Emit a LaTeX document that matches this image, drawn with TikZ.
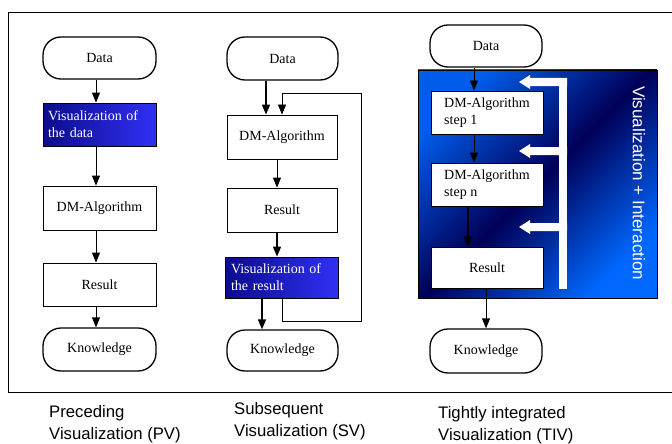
\documentclass[tikz,border=0pt]{standalone}
\usepackage{fontspec}
\setmainfont{Liberation Serif}
\newfontfamily\sanslabel{Liberation Sans}
\usetikzlibrary{arrows.meta}
\definecolor{vizdark}{RGB}{12,12,140}
\definecolor{vizbright}{RGB}{48,48,245}
\definecolor{panelbright}{RGB}{0,92,235}
\definecolor{panelbright2}{RGB}{0,104,255}
\definecolor{paneldark}{RGB}{0,0,88}
\begin{document}
\begin{tikzpicture}[x=1pt,y=-1pt,
  box/.style={draw=black, line width=0.8pt, fill=white, minimum width=113pt,
    minimum height=43pt, inner sep=0pt, font=\fontsize{14}{17}\selectfont},
  term/.style={box, rounded corners=18pt, line width=1.3pt},
  vizbox/.style={box, left color=vizdark, right color=vizbright, text=white,
    align=left, text width=103pt, inner xsep=5pt},
  stepbox/.style={box, align=left},
  conn/.style={line width=0.8pt, -{Triangle[length=10pt,width=8pt]}},
  connthick/.style={conn, line width=1.6pt},
  loopline/.style={line width=0.7pt},
  caption/.style={anchor=north west, inner sep=0pt, align=left,
    font=\sanslabel\fontsize{16.7}{22}\selectfont},
]
\useasboundingbox (0,0) rectangle (672,444);

% outer frame, open to the right
\draw[line width=0.9pt] (672,12) -- (8,12) -- (8,392) -- (672,392);

% ---------- Preceding visualization ----------
\coordinate (c1) at (96,0);
\node[term] (data1) at (99.5,58) [minimum height=42pt] {Data};
\node[vizbox] (vis1) at (99.5,124.5) {Visualization of\\the data};
\node[box] (alg1) at (99.5,208) [minimum height=44pt] {DM-Algorithm};
\node[box] (res1) at (99.5,284.5) {Result};
\node[term] (know1) at (99.5,349.5) {Knowledge};
\draw[conn] (data1.south -| c1) -- (vis1.north -| c1);
\draw[conn] (vis1.south -| c1) -- (alg1.north -| c1);
\draw[conn] (alg1.south -| c1) -- (res1.north -| c1);
\draw[conn] (res1.south -| c1) -- (know1.north -| c1);

% ---------- Subsequent visualization ----------
\coordinate (c2a) at (266,0);
\coordinate (c2b) at (277,0);
\coordinate (c2c) at (262,0);
\coordinate (fb1) at (282,321);
\coordinate (fb2) at (361,321);
\coordinate (fb3) at (361,93);
\coordinate (fb4) at (282,93);
\node[term] (data2) at (282.5,58.5) [minimum width=111pt] {Data};
\node[box] (alg2) at (282,137) [minimum width=110pt, minimum height=44pt] {DM-Algorithm};
\node[box] (res2) at (282,210) [minimum width=110pt, minimum height=44pt] {Result};
\node[vizbox] (vis2) at (281.5,277.5) [minimum height=41pt, text width=101pt] {Visualization of\\the result};
\node[term] (know2) at (282.5,350.5) [minimum width=111pt, minimum height=41pt] {Knowledge};
\draw[connthick] (data2.south -| c2a) -- (alg2.north -| c2a);
\draw[conn] (alg2.south -| c2b) -- (res2.north -| c2b);
\draw[connthick] (res2.south -| c2b) -- (vis2.north -| c2b);
\draw[connthick] (vis2.south -| c2c) -- (know2.north -| c2c);
\draw[loopline] (vis2.south -| fb1) -- (fb1) -- (fb2) -- (fb3) -- (fb4);
\draw[conn, line width=0.7pt] (fb4) -- (alg2.north -| fb4);

% ---------- Tightly integrated visualization ----------
\node[draw=black, line width=0.6pt, minimum width=239pt, minimum height=228pt,
  top color=panelbright, bottom color=panelbright2, middle color=paneldark,
  shading angle=45] (panel) at (537.5,184) {};

% white feedback bar with three arms
\fill[white] (559,78) rectangle (567,289);
\foreach \yc in {82,151,227}{
  \fill[white] (567,\yc-4) -- (530,\yc-4) -- (530,\yc-7) -- (519,\yc)
    -- (530,\yc+7) -- (530,\yc+4) -- (567,\yc+4) -- cycle;
}
\node[rotate=-90, text=white, inner sep=0pt,
  font=\sanslabel\fontsize{17}{20}\selectfont] (vlabel) at (639,183)
  {Visualization + Interaction};

\coordinate (c3a) at (474,0);
\coordinate (c3b) at (468,0);
\coordinate (c3c) at (486,0);
\node[term] (data3) at (486,46) [minimum width=112pt, minimum height=42pt] {Data};
\node[stepbox] (step1) at (487,112.5) [minimum width=112pt] {DM-Algorithm\\step 1};
\node[stepbox] (stepn) at (487,184.5) [minimum width=112pt] {DM-Algorithm\\step n};
\node[box] (res3) at (487,267.5) [minimum width=112pt, minimum height=41pt] {Result};
\node[term] (know3) at (486,351) [minimum width=112pt, minimum height=44pt] {Knowledge};
\draw[conn] (data3.south -| c3a) -- (step1.north -| c3a);
\draw[conn] (step1.south -| c3a) -- (stepn.north -| c3a);
\draw[connthick] (stepn.south -| c3b) -- (res3.north -| c3b);
\draw[conn] (res3.south -| c3c) -- (know3.north -| c3c);

% ---------- captions ----------
\node[caption] (capPV) at (49,405) {Preceding\\Visualization (PV)};
\node[caption] (capSV) at (234,402) {Subsequent\\Visualization (SV)};
\node[caption] (capTIV) at (438,406) {Tightly integrated\\Visualization (TIV)};
\end{tikzpicture}
\end{document}
